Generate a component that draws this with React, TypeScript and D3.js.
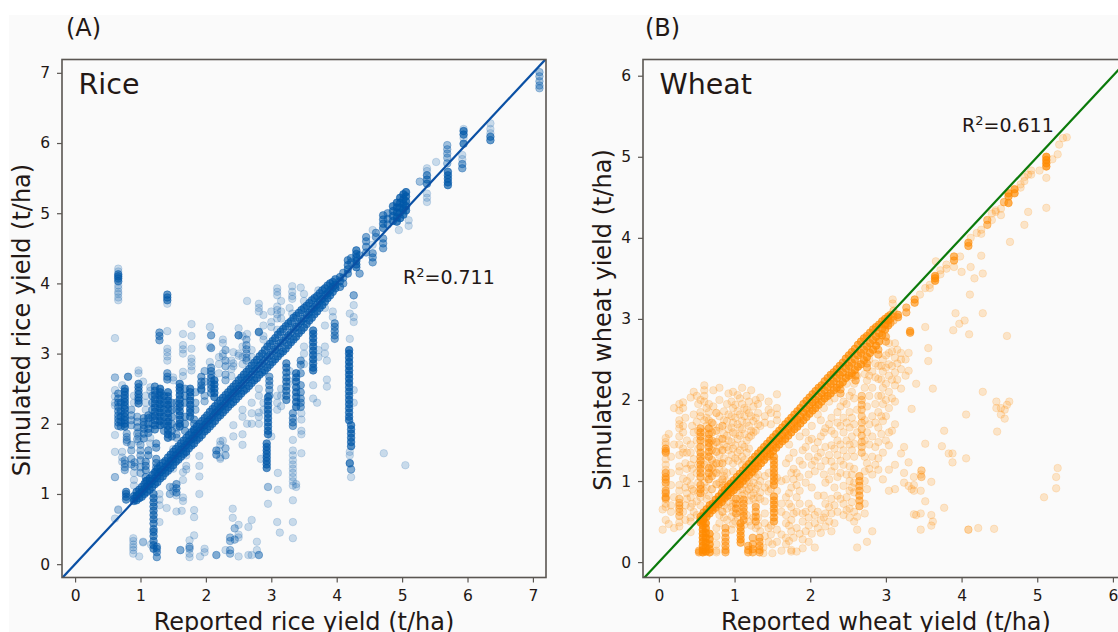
import { useEffect, useRef } from "react";
import * as d3 from "d3";

// [reported yield, overplot count, simulated yields]
type Strip = [number, number, number[]];
type Band = [number, number[]];
type Dot = { x: number; y: number; n: number };

const riceTicks = [0, 1, 2, 3, 4, 5, 6, 7];
const wheatTicks = [0, 1, 2, 3, 4, 5, 6];

// dense run along the 1:1 line
const riceBand: Band[] = [
  [0.9, [0.97, 0.93, 0.9]], [0.94, [1.03, 0.97, 0.91]], [0.98, [1.06, 1.0, 0.94]], [1.02, [1.1, 1.03, 0.96]], [1.06, [1.14, 1.07, 1.0]],
  [1.1, [1.19, 1.11, 1.03]], [1.14, [1.22, 1.14, 1.06]], [1.18, [1.27, 1.19, 1.1]], [1.22, [1.31, 1.22, 1.14]], [1.26, [1.36, 1.26, 1.17]],
  [1.3, [1.4, 1.31, 1.22]], [1.34, [1.44, 1.34, 1.25]], [1.38, [1.47, 1.38, 1.3]], [1.42, [1.52, 1.42, 1.33]], [1.46, [1.56, 1.47, 1.37]],
  [1.5, [1.6, 1.5, 1.41]], [1.54, [1.64, 1.55, 1.46]], [1.58, [1.68, 1.58, 1.49]], [1.62, [1.72, 1.63, 1.53]], [1.66, [1.76, 1.66, 1.57]],
  [1.7, [1.8, 1.7, 1.6]], [1.74, [1.84, 1.75, 1.65]], [1.78, [1.88, 1.78, 1.69]], [1.82, [1.92, 1.83, 1.72]], [1.86, [1.96, 1.86, 1.77]],
  [1.9, [2.0, 1.9, 1.8]], [1.94, [2.04, 1.95, 1.84]], [1.98, [2.08, 1.98, 1.89]], [2.02, [2.12, 2.03, 1.92]], [2.06, [2.17, 2.06, 1.96]],
  [2.1, [2.21, 2.1, 2.0]], [2.14, [2.25, 2.15, 2.04]], [2.18, [2.29, 2.18, 2.09]], [2.22, [2.33, 2.23, 2.12]], [2.26, [2.37, 2.26, 2.16]],
  [2.3, [2.41, 2.3, 2.2]], [2.34, [2.45, 2.35, 2.24]], [2.38, [2.49, 2.38, 2.28]], [2.42, [2.53, 2.43, 2.31]], [2.46, [2.57, 2.46, 2.35]],
  [2.5, [2.62, 2.5, 2.39]], [2.54, [2.66, 2.55, 2.43]], [2.58, [2.7, 2.58, 2.47]], [2.62, [2.74, 2.63, 2.5]], [2.66, [2.78, 2.66, 2.54]],
  [2.7, [2.83, 2.7, 2.58]], [2.74, [2.87, 2.75, 2.62]], [2.78, [2.91, 2.78, 2.65]], [2.82, [2.96, 2.83, 2.7]], [2.86, [3.0, 2.86, 2.73]],
  [2.9, [3.05, 2.9, 2.76]], [2.94, [3.1, 2.95, 2.8]], [2.98, [3.14, 2.98, 2.84]], [3.02, [3.18, 3.03, 2.88]], [3.06, [3.22, 3.06, 2.92]],
  [3.1, [3.27, 3.1, 2.96]], [3.14, [3.31, 3.15, 3.0]], [3.18, [3.35, 3.18, 3.03]], [3.22, [3.39, 3.23, 3.07]], [3.26, [3.43, 3.26, 3.12]],
  [3.3, [3.46, 3.3, 3.16]], [3.34, [3.51, 3.35, 3.2]], [3.38, [3.54, 3.38, 3.24]], [3.42, [3.58, 3.43, 3.29]], [3.46, [3.62, 3.46, 3.33]],
  [3.5, [3.65, 3.5, 3.37]], [3.54, [3.68, 3.55, 3.42]], [3.58, [3.72, 3.58, 3.47]], [3.62, [3.76, 3.63, 3.51]], [3.66, [3.79, 3.66, 3.56]],
  [3.7, [3.82, 3.7, 3.6]], [3.74, [3.86, 3.75, 3.65]], [3.78, [3.9, 3.78, 3.69]], [3.82, [3.93, 3.83, 3.74]], [3.86, [3.97, 3.86, 3.79]],
  [3.9, [4.0, 3.9, 3.83]], [3.94, [4.02, 3.95, 3.88]], [3.98, [4.06, 3.98, 3.93]],
];

const riceStrips: Strip[] = [
  // low end columns
  [0.66, 1, [4.21, 4.17, 3.97, 3.93, 3.88, 3.85, 3.8, 3.76, 0.77, 0.78]],
  [0.66, 4, [4.13, 4.1, 4.07, 4.03]],
  [0.61, 1, [3.22, 2.66, 2.66, 2.48, 2.39, 2.3, 2.26, 1.84, 1.6, 1.24, 1.24, 0.65]],
  [0.81, 4, [2.67]],
  [0.66, 3, [2.43, 2.36, 2.3, 2.24, 2.18, 2.12, 2.07, 2.02, 1.97]],
  [0.76, 5, [2.5, 2.46, 2.41, 2.36, 2.31, 2.26, 2.21, 2.15, 2.1, 2.05, 2.0, 1.96]],
  [0.7, 3, [2.3, 2.18, 2.1, 2.03, 1.96]],
  [0.79, 2, [1.86, 1.81, 1.77, 1.74]],
  [0.76, 2, [1.48, 1.43, 1.38, 1.34]],
  [0.91, 2, [1.45, 1.39]],
  [0.78, 4, [1.03, 1.0, 0.96, 0.92]],
  [0.97, 1, [2.76, 2.72, 1.95, 1.88, 1.82, 1.75]],
  [0.97, 4, [2.57, 2.52, 2.47, 2.42, 2.37, 2.33, 2.29]],
  [1.04, 1, [2.6]],
  [1.05, 3, [2.08, 2.03, 1.98, 1.93, 1.86, 1.79]],
  [0.95, 2, [2.1, 2.03, 1.95, 1.86, 1.78]],
  [0.89, 1, [0.37, 0.33, 0.28, 0.24, 0.2, 0.15]],
  [1.04, 1, [0.32, 0.31]],
  [0.98, 1, [0.11]],
  [1.2, 4, [1.0, 0.94, 0.88, 0.82, 0.76, 0.7, 0.64, 0.58, 0.5, 0.46, 0.4, 0.33, 0.27, 0.22]],
  [1.25, 3, [0.25, 0.22, 0.17, 0.1]],
  [1.29, 1, [1.0, 0.92, 0.84, 0.6]],
  [1.41, 4, [3.84, 3.8, 3.76]],
  [1.41, 1, [3.71, 3.32, 3.07, 3.02, 2.96, 2.9, 2.28, 2.0]],
  [1.29, 3, [3.3, 3.25, 3.19]],
  [1.41, 3, [2.72, 2.67, 2.63]],
  [1.22, 4, [2.53, 2.47, 2.41, 2.35, 2.29, 2.23, 2.17, 2.11, 2.05, 1.98, 1.92]],
  [1.3, 6, [2.5, 2.45, 2.4, 2.34, 2.28, 2.22, 2.16, 2.1, 2.04, 1.98]],
  [1.42, 5, [2.45, 2.39, 2.33, 2.27, 2.21, 2.15, 2.09, 2.03, 1.97, 1.91, 1.85, 1.8]],
  [1.6, 5, [2.57, 2.52, 2.47, 2.41, 2.35, 2.29, 2.24, 2.18, 2.12, 2.06, 2.0, 1.96]],
  [1.76, 5, [2.5, 2.45, 2.39, 2.33, 2.27, 2.21, 2.16, 2.1]],
  [1.65, 1, [3.28, 3.12, 3.06, 3.0, 2.74, 2.68]],
  [1.78, 1, [3.42, 3.25, 3.07, 2.93, 2.88, 2.82, 2.76]],
  [1.5, 1, [2.66, 2.62, 1.64, 1.55]],
  [1.15, 1, [2.52, 2.47, 2.1, 1.92, 1.8, 1.72]],
  [1.12, 3, [2.12, 2.08, 2.0, 1.93, 1.87, 1.62, 1.55]],
  [1.24, 3, [1.72, 1.66, 1.5, 1.44, 1.38, 1.32]],
  [1.08, 3, [1.46, 1.4, 1.34, 1.24, 1.18]],
  [1.5, 1, [1.46, 1.36, 1.1, 1.04]],
  [1.55, 3, [1.14, 1.08, 1.02]],
  [1.65, 1, [1.2, 1.31, 0.95, 0.9]],
  [1.9, 1, [1.54, 1.4, 1.25, 1.0]],
  [1.93, 3, [2.67, 2.6, 2.55, 2.5, 2.48]],
  [1.82, 3, [2.06, 2.0, 1.9, 1.8]],
  [1.7, 1, [1.7, 1.6, 1.55, 1.4, 1.35]],
  [2.06, 1, [3.38, 3.1, 2.88]],
  [2.08, 3, [3.26, 3.08, 2.8, 2.75, 2.7, 2.65, 2.6, 2.55, 2.5, 2.44]],
  [2.13, 5, [2.62, 2.56, 2.5, 2.44, 2.38]],
  [2.26, 1, [3.2, 3.15, 3.0, 2.96, 1.76]],
  [2.39, 1, [2.9, 2.78, 2.68]],
  [2.5, 1, [3.36, 3.0, 2.97]],
  [2.5, 5, [3.26]],
  [2.63, 1, [3.75, 3.28, 2.0]],
  [2.81, 1, [3.71, 3.65, 3.6, 3.3, 2.5, 2.4, 2.16, 2.1, 2.0]],
  [2.81, 4, [3.31]],
  [2.62, 2, [3.2, 3.12, 3.06, 3.0, 2.94, 2.9]],
  [2.22, 1, [1.75, 1.7, 1.52, 1.5]],
  [2.16, 3, [1.62, 1.56]],
  [3.09, 1, [3.93, 3.88, 3.83, 3.67, 3.62, 3.56, 3.5, 3.34, 2.4, 2.3, 2.2, 0.6]],
  [3.32, 1, [3.96, 3.88, 3.82, 3.78, 3.57]],
  [3.45, 1, [3.94]],
  // second pass over the crowded part of the panel
  [0.72, 1, [2.55, 1.6, 1.52, 1.46]],
  [0.86, 2, [2.2, 2.12, 2.05, 1.98, 1.7, 1.62, 1.5, 1.42]],
  [0.9, 1, [2.4, 2.3, 1.3, 1.2, 1.12]],
  [1.0, 2, [1.7, 1.62, 1.55, 1.48, 1.38, 1.3]],
  [1.08, 1, [2.4, 2.3, 2.2]],
  [1.18, 3, [2.4, 2.3, 2.2, 2.1, 2.0]],
  [1.36, 3, [2.4, 2.3, 2.2, 2.1, 2.0, 1.9]],
  [1.48, 3, [2.3, 2.2, 2.1, 2.0, 1.9, 1.82]],
  [1.55, 2, [2.3, 2.2, 1.95, 1.85, 1.8]],
  [1.68, 3, [2.5, 2.4, 2.3, 2.1, 2.0, 1.9]],
  [1.84, 2, [2.3, 2.2, 2.45]],
  [1.98, 2, [2.75, 2.6, 2.4, 2.32]],
  [2.2, 1, [2.95, 2.85, 2.72, 1.62]],
  [2.3, 2, [3.05, 2.9, 2.82, 2.7, 2.62, 1.65, 1.55]],
  [2.42, 1, [3.02, 2.86, 2.82, 1.98, 1.82]],
  [2.56, 1, [3.25, 3.1, 2.95, 2.85, 2.2, 2.1, 1.85, 1.7]],
  [2.7, 1, [3.05, 2.95, 2.3, 2.15, 2.0]],
  [2.88, 1, [3.55, 3.4, 3.25, 3.2, 2.3, 2.2]],
  [3.0, 1, [3.6, 3.45, 3.38, 1.82]],
  [3.15, 1, [3.75, 3.6, 3.5, 2.5, 2.4, 2.25]],
  [3.28, 1, [3.65, 2.75, 2.6]],
  [3.5, 1, [3.85, 3.75, 3.1, 3.0, 2.85]],
  [3.72, 1, [3.9, 3.05, 2.95]],
  [3.82, 1, [3.65, 3.4, 3.1, 3.0]],
  // columns below the diagonal
  [2.97, 3, [2.67, 2.61, 2.55, 2.48, 2.4]],
  [2.95, 5, [2.38, 2.32, 2.26, 2.2, 2.14, 2.08, 2.02, 1.96, 1.9, 1.85]],
  [2.93, 5, [1.72, 1.67, 1.62, 1.57, 1.52, 1.47, 1.42, 1.37]],
  [2.84, 1, [1.5]],
  [3.23, 4, [2.86, 2.8, 2.73, 2.66, 2.6, 2.53, 2.47, 2.4, 2.34]],
  [3.38, 5, [2.72, 2.66, 2.6, 2.52, 2.45, 2.38, 2.31, 2.24]],
  [3.45, 3, [2.9, 2.84, 2.72, 2.55, 2.45, 2.36, 2.3, 2.24]],
  [3.33, 3, [2.15, 2.08, 2.02, 1.97]],
  [3.33, 1, [1.77, 1.62, 1.55, 1.48, 1.42, 1.36, 1.3, 1.24, 1.18, 1.12, 0.91, 0.6, 0.37]],
  [3.46, 1, [2.15, 2.06, 1.9, 1.85, 1.58]],
  [3.38, 1, [1.1, 1.14]],
  [2.95, 2, [1.1]],
  [2.95, 1, [0.86]],
  [3.1, 1, [1.3, 1.06]],
  [3.13, 1, [0.45]],
  [3.64, 5, [3.33, 3.28, 3.22, 3.16, 3.1, 3.04, 2.98, 2.92, 2.86, 2.8, 2.76]],
  [3.64, 1, [2.55, 2.36]],
  [3.7, 1, [2.3]],
  [3.85, 1, [2.9, 2.63, 2.53]],
  [3.97, 3, [3.43, 3.38, 3.32, 3.26, 3.21]],
  [3.94, 1, [3.6, 3.52]],
  // x = 4.2 column
  [4.19, 6, [3.05, 3.0, 2.94, 2.88, 2.82, 2.76, 2.7, 2.64, 2.58]],
  [4.19, 5, [2.52, 2.46, 2.4, 2.34, 2.28, 2.22, 2.16, 2.1, 2.05]],
  [4.22, 5, [1.98, 1.92, 1.86, 1.8, 1.74, 1.68]],
  [4.2, 1, [3.57, 3.21, 1.6, 1.55, 1.43]],
  [4.2, 4, [1.44]],
  [4.22, 3, [1.35]],
  [4.22, 1, [1.24]],
  [4.26, 1, [3.83, 3.83, 3.69, 3.52, 3.45, 2.48, 2.3]],
  [4.72, 1, [1.58]],
  [5.05, 1, [1.41]],
  // bottom scatter
  [1.61, 3, [0.2]],
  [1.75, 2, [0.25, 0.22]],
  [1.75, 1, [0.34, 0.1, 0.15]],
  [1.82, 1, [0.41, 0.77, 0.67]],
  [1.91, 1, [0.11]],
  [1.98, 1, [0.22, 0.17]],
  [2.16, 3, [0.13]],
  [2.3, 1, [0.2]],
  [2.41, 1, [0.79, 0.66]],
  [2.37, 2, [0.38, 0.33, 0.2, 0.15]],
  [2.44, 2, [0.51, 0.35]],
  [2.5, 1, [0.56, 0.42, 0.38, 0.11]],
  [2.7, 1, [0.63, 0.13]],
  [2.65, 1, [0.53, 0.13]],
  [2.78, 1, [0.32, 0.2]],
  [2.81, 3, [0.13]],
  [1.63, 1, [0.76]],
  [1.4, 1, [0.8]],
  [1.16, 1, [0.28]],
  [1.45, 2, [1.1, 1.0]],
  [1.55, 1, [0.98, 0.75]],
  // upper diagonal clusters
  [4.05, 4, [4.09, 4.03, 3.95]],
  [4.1, 3, [4.15, 4.08, 4.0]],
  [4.17, 4, [4.33, 4.26, 4.2, 4.14]],
  [4.3, 5, [4.47, 4.42, 4.37, 4.32, 4.27, 4.23]],
  [4.35, 3, [4.4, 4.14]],
  [4.22, 3, [4.36, 4.3]],
  [4.26, 1, [3.83]],
  [4.45, 3, [4.66, 4.6, 4.52, 4.44]],
  [4.55, 1, [4.76, 4.55]],
  [4.55, 3, [4.43, 4.37, 4.3]],
  [4.6, 3, [4.72, 4.66]],
  [4.71, 4, [4.97, 4.91, 4.85, 4.79]],
  [4.71, 3, [4.64, 4.57, 4.5]],
  [4.78, 3, [5.0, 4.92, 4.84]],
  [4.86, 5, [5.1, 5.03, 4.96, 4.89]],
  [4.95, 1, [4.76]],
  [4.92, 6, [5.15, 5.08, 5.01, 4.94, 4.88]],
  [4.97, 6, [5.22, 5.15, 5.08, 5.01, 4.93]],
  [5.02, 6, [5.27, 5.2, 5.13, 5.06, 4.98]],
  [5.06, 6, [5.3, 5.24, 5.17, 5.1, 5.04]],
  [5.1, 1, [4.9, 4.82]],
  [5.27, 2, [5.45]],
  [5.38, 1, [5.64, 5.6, 5.28, 5.22, 5.16]],
  [5.38, 4, [5.54, 5.48, 5.42]],
  [5.52, 1, [5.73]],
  [5.69, 2, [5.97, 5.91, 5.85, 5.79, 5.71]],
  [5.7, 5, [5.59, 5.54, 5.49, 5.44, 5.4]],
  [5.92, 1, [5.83, 5.77]],
  [5.92, 3, [5.7, 5.64]],
  [5.94, 5, [6.17, 6.12, 5.99]],
  [5.94, 1, [6.2, 6.07]],
  [6.35, 1, [6.28, 6.2, 6.14]],
  [6.35, 4, [6.09, 6.04]],
  [7.1, 2, [7.01, 6.95, 6.88, 6.82, 6.78]],
];

const wheatBand: Band[] = [
  [0.55, [0.56, 0.52, 0.49]], [0.59, [0.61, 0.57, 0.53]], [0.63, [0.65, 0.6, 0.56]], [0.67, [0.7, 0.65, 0.6]], [0.71, [0.72, 0.68, 0.64]],
  [0.75, [0.77, 0.72, 0.67]], [0.79, [0.81, 0.76, 0.71]], [0.83, [0.85, 0.8, 0.74]], [0.87, [0.89, 0.84, 0.79]], [0.91, [0.93, 0.87, 0.82]],
  [0.95, [0.97, 0.91, 0.86]], [0.99, [1.01, 0.95, 0.89]], [1.03, [1.05, 0.99, 0.93]], [1.07, [1.09, 1.02, 0.96]], [1.11, [1.13, 1.06, 1.0]],
  [1.15, [1.17, 1.1, 1.04]], [1.19, [1.21, 1.14, 1.07]], [1.23, [1.26, 1.18, 1.11]], [1.27, [1.3, 1.22, 1.15]], [1.31, [1.34, 1.26, 1.18]],
  [1.35, [1.38, 1.3, 1.22]], [1.39, [1.42, 1.34, 1.26]], [1.43, [1.46, 1.38, 1.3]], [1.47, [1.5, 1.41, 1.33]], [1.51, [1.54, 1.45, 1.37]],
  [1.55, [1.58, 1.49, 1.41]], [1.59, [1.62, 1.53, 1.45]], [1.63, [1.66, 1.57, 1.49]], [1.67, [1.7, 1.61, 1.52]], [1.71, [1.74, 1.65, 1.56]],
  [1.75, [1.78, 1.69, 1.6]], [1.79, [1.82, 1.73, 1.64]], [1.83, [1.86, 1.76, 1.67]], [1.87, [1.9, 1.8, 1.71]], [1.91, [1.95, 1.85, 1.75]],
  [1.95, [1.99, 1.89, 1.79]], [1.99, [2.03, 1.93, 1.83]], [2.03, [2.07, 1.97, 1.87]], [2.07, [2.11, 2.0, 1.9]], [2.11, [2.15, 2.04, 1.94]],
  [2.15, [2.18, 2.08, 1.98]], [2.19, [2.23, 2.12, 2.02]], [2.23, [2.27, 2.16, 2.05]], [2.27, [2.31, 2.2, 2.08]], [2.31, [2.34, 2.23, 2.12]],
  [2.35, [2.38, 2.27, 2.15]], [2.39, [2.42, 2.31, 2.19]], [2.43, [2.46, 2.34, 2.22]], [2.47, [2.51, 2.39, 2.27]], [2.51, [2.55, 2.42, 2.3]],
  [2.55, [2.59, 2.46, 2.33]], [2.59, [2.63, 2.5, 2.37]], [2.63, [2.68, 2.55, 2.41]], [2.67, [2.72, 2.58, 2.44]], [2.71, [2.76, 2.62, 2.49]],
  [2.75, [2.79, 2.66, 2.53]], [2.79, [2.83, 2.7, 2.58]], [2.83, [2.87, 2.74, 2.62]], [2.87, [2.9, 2.78, 2.67]], [2.91, [2.93, 2.82, 2.72]],
  [2.95, [2.97, 2.88, 2.8]], [2.99, [3.0, 2.93, 2.87]], [3.03, [3.03, 2.98, 2.92]],
];

const wheatStrips: Strip[] = [
  [0.05, 1, [0.65, 0.4]],
  [0.09, 1, [1.53, 1.48, 1.45, 1.27, 1.2, 1.14, 0.93, 0.72, 0.68, 0.52]],
  [0.09, 3, [1.4, 1.37, 1.35, 1.1, 1.05, 1.02, 0.98, 0.88, 0.85, 0.8, 0.78]],
  [0.13, 1, [1.58, 0.47]],
  [0.2, 1, [1.9, 1.45, 0.8, 0.42]],
  [0.27, 1, [1.95, 1.87, 1.75, 1.7, 1.65, 1.55, 1.45, 1.32, 1.18, 1.12, 0.95, 0.88, 0.49, 0.44]],
  [0.27, 2, [0.78, 0.73, 0.7, 0.66, 0.62, 0.57]],
  [0.32, 1, [1.97, 1.9, 1.68, 1.6, 1.4, 1.35, 1.03, 0.62]],
  [0.37, 1, [1.5, 1.35, 1.15, 1.0, 0.85, 0.78]],
  [0.42, 1, [2.03, 1.45, 1.35, 1.2, 1.05, 0.95, 0.8, 0.68, 0.55, 0.5, 0.37]],
  [0.46, 1, [2.1, 1.82, 1.6, 1.27, 0.88, 0.62]],
  [0.5, 1, [2.05, 1.73, 1.5, 1.1, 0.75, 0.58]],
  [0.55, 3, [1.65, 1.6, 1.55, 1.5, 1.42, 1.35, 1.3, 1.25, 1.2, 1.15, 1.1, 1.05, 0.95, 0.9, 0.85]],
  [0.55, 1, [2.0, 1.85, 1.8, 0.8, 0.7]],
  [0.6, 1, [2.18, 2.12, 2.05, 1.98, 1.75, 1.6, 1.48, 1.32, 1.2, 0.98, 0.88]],
  [0.66, 3, [1.65, 1.58, 1.52, 1.47, 1.42, 1.36, 1.3, 1.16, 1.1, 1.02]],
  [0.66, 1, [1.95, 1.85, 1.75, 0.82]],
  [0.72, 1, [2.12, 1.92, 1.7, 1.45, 1.2, 1.1]],
  [0.8, 1, [2.15, 2.0, 1.8, 1.66, 1.52, 1.42, 1.32, 1.22, 1.14, 0.98, 0.58, 0.48]],
  [0.86, 1, [1.86, 1.75, 1.58, 1.45, 1.28, 1.12, 1.06, 0.95, 0.85, 0.7, 0.55]],
  [0.92, 1, [2.08, 1.82, 1.64, 1.5, 1.38, 1.25, 0.95, 0.75]],
  [0.98, 1, [2.1, 1.9, 1.72, 1.6, 1.4, 1.22, 1.12, 0.72, 0.62, 0.47]],
  [1.04, 1, [2.06, 1.86, 1.7, 1.52, 1.35, 1.25, 0.88, 0.7, 0.55]],
  [1.1, 1, [2.15, 1.95, 1.74, 1.64, 1.45, 1.3, 1.2, 0.9, 0.82]],
  [1.16, 1, [2.05, 1.88, 1.72, 1.5, 1.35, 1.0, 0.88, 0.58]],
  [1.22, 1, [2.12, 1.8, 1.62, 1.56, 0.93, 0.82, 0.45]],
  [1.28, 1, [2.0, 1.78, 1.62, 1.18, 1.05, 0.9, 0.72, 0.42]],
  [1.34, 1, [2.03, 1.68, 1.0, 0.86, 0.78, 0.38]],
  [1.45, 1, [1.98, 1.88, 1.1, 0.96, 0.87, 0.42, 0.25]],
  [1.56, 1, [2.07, 1.9, 1.82, 1.75, 1.04, 0.88, 0.4, 0.25]],
  // second pass over the crowded part of the panel
  [0.16, 1, [1.3, 1.1, 0.95, 0.7, 0.62]],
  [0.35, 1, [1.78, 1.22, 0.92, 0.7, 0.52]],
  [0.44, 1, [1.68, 1.15, 0.9, 0.72]],
  [0.52, 1, [1.95, 1.62, 1.4, 1.2, 0.98, 0.85]],
  [0.63, 1, [1.9, 1.78, 1.68, 1.25, 1.05, 0.92, 0.78]],
  [0.7, 2, [1.72, 1.6, 1.5, 1.38, 1.26, 1.16, 1.06, 0.9]],
  [0.76, 2, [1.84, 1.62, 1.48, 1.36, 1.22, 1.1, 0.96]],
  [0.84, 2, [1.68, 1.52, 1.38, 1.22, 1.02, 0.92, 0.78, 0.62]],
  [0.9, 1, [1.95, 1.74, 1.56, 1.42, 1.1, 1.0, 0.82, 0.66, 0.52]],
  [0.96, 1, [1.98, 1.8, 1.66, 1.48, 1.32, 0.8, 0.68, 0.56, 0.4]],
  [1.01, 1, [1.94, 1.78, 1.58, 1.44, 1.28, 0.92, 0.5]],
  [1.07, 1, [2.02, 1.82, 1.66, 1.56, 1.38, 0.94, 0.78, 0.62]],
  [1.13, 1, [1.9, 1.8, 1.58, 1.42, 1.26, 0.96, 0.84, 0.46]],
  [1.19, 1, [1.98, 1.84, 1.68, 1.54, 1.4, 0.98, 0.9, 0.76, 0.5]],
  [1.25, 1, [1.92, 1.74, 1.6, 1.1, 0.98, 0.85, 0.78, 0.55]],
  [1.31, 1, [1.95, 1.84, 1.7, 1.08, 0.95, 0.8, 0.55, 0.45]],
  [1.4, 1, [1.8, 1.72, 1.06, 0.92, 0.75, 0.6, 0.48, 0.32]],
  [1.48, 1, [1.84, 1.7, 0.9, 0.45, 0.34]],
  [1.62, 1, [1.0, 0.72, 0.62, 0.34, 0.14]],
  [1.72, 1, [1.45, 1.28, 0.85, 0.72, 0.45, 0.26]],
  [1.78, 1, [1.35, 1.15, 1.02, 0.6, 0.3]],
  [1.86, 1, [1.55, 1.25, 1.05, 0.88, 0.72, 0.35]],
  [1.94, 1, [1.6, 1.42, 0.98, 0.62, 0.38]],
  [2.02, 1, [1.68, 1.52, 1.2, 0.92, 0.66, 0.35]],
  [2.1, 1, [1.82, 1.48, 1.3, 0.82, 0.62, 0.42]],
  [2.18, 1, [1.9, 1.6, 1.08, 0.82, 0.55]],
  [2.25, 1, [1.98, 1.7, 1.32, 1.02, 0.68, 0.5]],
  [2.32, 1, [2.02, 1.58, 1.4, 1.18, 0.92, 0.7, 0.48]],
  [2.4, 1, [1.92, 1.68, 1.45, 1.25, 1.1, 0.78]],
  [2.48, 1, [2.2, 1.95, 1.72, 1.5, 1.3, 1.08, 0.8, 0.64]],
  [2.55, 1, [2.28, 2.1, 1.78, 1.55, 1.38, 1.08, 0.92, 0.74]],
  [2.72, 1, [2.32, 2.15, 1.75, 1.5, 1.3, 1.12, 1.0, 0.72, 0.6]],
  [2.78, 1, [2.5, 2.3, 2.05, 1.7, 1.45, 1.15]],
  [2.86, 1, [2.45, 2.28, 1.95, 1.72, 1.42, 1.2]],
  [2.94, 1, [2.42, 2.25, 2.05, 1.8, 1.58]],
  [3.0, 1, [2.55, 2.4, 2.2, 2.0, 1.8, 1.5]],
  [3.08, 1, [2.6, 2.42, 2.25, 2.02, 1.62]],
  [3.15, 1, [2.62, 2.45, 2.25]],
  [3.26, 1, [2.5, 2.3]],
  [2.4, 3, [2.13, 2.08]],
  [2.6, 3, [2.3, 2.24]],
  [2.75, 3, [2.45, 2.4]],
  [2.9, 3, [2.62, 2.56]],
  [3.0, 3, [2.78, 2.72]],
  // dense columns low on the panel
  [0.58, 6, [0.5, 0.45, 0.4, 0.35, 0.3, 0.25, 0.2, 0.15, 0.12]],
  [0.62, 6, [0.48, 0.42, 0.36, 0.3, 0.24, 0.18, 0.13]],
  [0.67, 5, [0.35, 0.28, 0.22, 0.16, 0.12]],
  [0.53, 3, [0.14, 0.12]],
  [0.76, 1, [0.42, 0.32, 0.22, 0.14, 0.12]],
  [0.88, 3, [0.42, 0.36, 0.3, 0.25, 0.2, 0.15, 0.12]],
  [1.08, 4, [0.48, 0.43, 0.38, 0.33, 0.28, 0.24]],
  [1.12, 3, [0.77, 0.72, 0.67, 0.62, 0.57, 0.52]],
  [1.28, 3, [0.68, 0.62, 0.56, 0.5]],
  [1.02, 3, [0.78, 0.72, 0.66, 0.6]],
  [1.18, 3, [0.2, 0.15, 0.12]],
  [1.24, 3, [0.3, 0.22, 0.16, 0.12]],
  [1.33, 3, [0.3, 0.25, 0.2, 0.15, 0.12]],
  [1.38, 1, [0.18, 0.11]],
  [1.5, 1, [0.22, 0.11]],
  [1.52, 4, [1.3, 1.25, 1.2, 1.15, 1.1, 1.05, 1.0, 0.95]],
  [1.52, 4, [0.81, 0.76, 0.71, 0.66, 0.61, 0.55, 0.5]],
  [1.68, 1, [1.22, 1.02, 0.8, 0.58, 0.48, 0.3, 0.22]],
  [1.75, 1, [1.1, 0.92, 0.68, 0.52, 0.38, 0.15, 0.13]],
  [1.82, 1, [1.1, 0.95, 0.8, 0.62, 0.42, 0.13]],
  [1.9, 1, [1.38, 1.2, 0.6, 0.5, 0.28, 0.17]],
  [1.98, 1, [1.5, 1.3, 1.08, 0.72, 0.55, 0.45, 0.25]],
  [2.06, 1, [1.4, 1.25, 1.12, 0.58, 0.48, 0.18]],
  [2.14, 1, [1.75, 1.55, 1.35, 1.18, 0.52, 0.36]],
  [2.2, 1, [1.65, 1.42, 1.25, 0.98, 0.72, 0.6, 0.44]],
  [2.28, 1, [1.78, 1.62, 1.44, 1.24, 1.12, 0.78, 0.6, 0.38]],
  [2.36, 1, [1.85, 1.72, 1.5, 1.32, 1.05, 0.82, 0.62]],
  [2.44, 1, [1.98, 1.78, 1.6, 1.38, 1.2, 0.94, 0.72, 0.58]],
  [2.52, 1, [2.05, 1.85, 1.66, 1.45, 1.18, 1.0, 0.88, 0.66, 0.55]],
  [2.58, 1, [2.2, 2.02, 1.7, 1.46, 1.3, 1.15, 0.98, 0.86, 0.62, 0.5]],
  [2.65, 3, [1.06, 1.0, 0.94, 0.88, 0.82, 0.76, 0.69]],
  [2.62, 1, [2.3, 1.88, 1.6, 0.56, 0.4, 0.18]],
  [2.68, 2, [2.05, 2.0, 1.94, 1.88, 1.8, 1.72, 1.64, 1.56, 1.48, 1.42, 1.35]],
  [2.75, 1, [2.24, 1.92, 1.6, 1.22, 0.9, 0.25]],
  [2.82, 1, [2.35, 2.15, 1.8, 1.55, 1.3, 1.08, 0.38]],
  [2.9, 1, [2.42, 2.26, 2.05, 1.85, 1.66, 1.48, 1.28, 1.14]],
  [2.96, 1, [2.5, 2.35, 2.15, 1.95, 1.74, 1.35, 1.02]],
  [3.04, 1, [2.7, 2.58, 2.44, 2.3, 2.1, 1.9, 1.6, 1.44, 1.14, 0.88]],
  [3.12, 1, [2.7, 2.52, 2.34, 2.18, 1.98, 1.7, 1.2, 0.9]],
  [3.06, 3, [3.05, 3.0, 2.95]],
  [3.1, 2, [3.1, 3.03, 2.98]],
  [3.09, 1, [3.24, 3.19]],
  [3.16, 4, [3.05, 3.02]],
  [3.27, 3, [3.14, 3.08]],
  [3.38, 4, [3.24, 3.2]],
  [3.45, 1, [3.3]],
  [3.32, 4, [2.85, 2.83]],
  [3.2, 1, [2.58, 2.5, 2.38, 2.14, 1.34]],
  [3.24, 1, [1.42, 1.1, 0.98]],
  [3.3, 1, [2.58, 2.36, 1.23, 0.94]],
  [3.34, 1, [1.89, 0.9]],
  [3.37, 1, [1.05, 0.95, 0.88, 0.59]],
  [3.4, 1, [2.2, 0.58]],
  [3.47, 2, [1.13, 1.05]],
  [3.46, 1, [1.08, 0.88, 0.6, 0.4]],
  [3.52, 1, [2.9, 1.46, 0.75]],
  [3.56, 1, [2.64, 2.48]],
  [3.6, 1, [0.99, 0.58, 0.45]],
  [3.62, 1, [2.14, 0.5]],
  [3.74, 1, [1.43]],
  [3.77, 1, [1.62, 0.67]],
  [3.83, 1, [1.34]],
  [3.88, 1, [1.34, 1.23]],
  [4.06, 1, [1.82, 1.28]],
  [4.09, 2, [0.4]],
  [4.22, 1, [0.42]],
  [4.28, 1, [2.1]],
  [4.43, 1, [0.41]],
  [4.46, 1, [1.98, 1.9]],
  [4.47, 1, [1.61]],
  [4.52, 1, [1.9, 1.82]],
  [4.57, 1, [1.88, 1.77]],
  [4.6, 1, [1.94]],
  [4.63, 1, [1.98]],
  [5.09, 1, [0.8]],
  [5.25, 1, [1.05, 0.91]],
  [5.27, 1, [1.16]],
  // upper part, mostly just under the line
  [3.52, 1, [3.38]],
  [3.58, 1, [3.42, 3.38]],
  [3.65, 5, [3.53, 3.5, 3.47]],
  [3.66, 1, [3.71]],
  [3.72, 1, [3.6, 3.55]],
  [3.8, 1, [3.67, 3.62]],
  [3.9, 4, [3.77, 3.72]],
  [3.98, 1, [3.77]],
  [3.9, 1, [3.64]],
  [4.0, 1, [3.58]],
  [4.09, 4, [3.94, 3.9]],
  [4.12, 1, [3.64, 4.0]],
  [4.17, 1, [3.5]],
  [4.26, 1, [3.78, 4.1, 4.05]],
  [4.2, 1, [4.06]],
  [4.28, 1, [3.56, 3.07]],
  [4.11, 1, [3.3]],
  [3.92, 1, [3.07]],
  [4.04, 1, [2.98]],
  [3.97, 1, [2.94]],
  [3.89, 1, [2.86]],
  [4.1, 1, [2.81]],
  [4.6, 1, [2.79]],
  [4.64, 1, [3.95]],
  [4.34, 3, [4.22, 4.16]],
  [4.4, 1, [4.3, 4.22]],
  [4.45, 1, [4.32, 4.34]],
  [4.52, 1, [4.36, 4.28]],
  [4.56, 3, [4.44]],
  [4.62, 5, [4.43, 4.55, 4.51]],
  [4.7, 5, [4.6, 4.55]],
  [4.78, 1, [4.62, 4.66]],
  [4.83, 1, [4.16, 4.75, 4.7]],
  [4.88, 1, [4.32, 4.78]],
  [4.92, 1, [4.83, 4.78]],
  [5.03, 1, [4.83]],
  [5.12, 6, [5.0, 4.96, 4.92, 4.88]],
  [5.12, 1, [4.74, 4.37]],
  [5.2, 1, [4.97]],
  [5.27, 1, [5.03]],
  [5.29, 1, [5.15]],
  [5.34, 1, [5.23]],
  [5.39, 1, [5.24]],
];

const BAND_STACK = 5;

// flatten the columns into single dots, a stacked dot stands for that many overlapping ones
const toDots = (band: Band[], strips: Strip[]): Dot[] => [
  ...strips.flatMap(([x, n, ys]) => ys.map((y) => ({ x, y, n }))),
  ...band.flatMap(([x, ys]) => ys.map((y) => ({ x, y, n: BAND_STACK }))),
];

const INK = "#231815";
const SPINE = "#5a5652";

type PanelProps = {
  id: string;
  tag: string;
  tagX: number;
  title: string;
  crop: string;
  dots: Dot[];
  ticks: number[];
  xDomain: [number, number];
  yDomain: [number, number];
  left: number;
  right: number;
  labelX: number;
  r2: string;
  r2x: number;
  r2y: number;
  dotColor: string;
  lineColor: string;
};

const top = 59.5;
const bottom = 577.5;

const Panel = (p: PanelProps) => {
  const axesRef = useRef<SVGGElement>(null);
  const x = d3.scaleLinear().domain(p.xDomain).range([p.left, p.right]);
  const y = d3.scaleLinear().domain(p.yDomain).range([bottom, top]);
  const line = d3.line<number>()
    .x((d) => x(d))
    .y((d) => y(d));
  const ends = [Math.min(p.xDomain[0], p.yDomain[0]), Math.max(p.xDomain[1], p.yDomain[1])];

  useEffect(() => {
    const g = d3.select(axesRef.current);
    g.selectAll("*").remove();
    const style = (a: d3.Selection<SVGGElement, unknown, null, undefined>) => {
      a.select(".domain").remove();
      a.selectAll("line").attr("stroke", SPINE).attr("stroke-width", 1.2);
      a.selectAll("text")
        .attr("fill", INK)
        .attr("font-size", 15.5)
        .attr("font-family", "DejaVu Sans");
    };
    g.append("g")
      .attr("transform", `translate(0,${bottom})`)
      .call(d3.axisBottom(x).tickValues(p.ticks).tickFormat(d3.format("d")).tickSize(5).tickPadding(7))
      .call(style);
    g.append("g")
      .attr("transform", `translate(${p.left},0)`)
      .call(d3.axisLeft(y).tickValues(p.ticks).tickFormat(d3.format("d")).tickSize(5).tickPadding(7))
      .call(style);
  }, []);

  return (
    <g fontFamily="DejaVu Sans" fill={INK}>
      <clipPath id={p.id}>
        <rect x={p.left} y={top} width={p.right - p.left} height={bottom - top} />
      </clipPath>
      <g clipPath={`url(#${p.id})`}>
        <g filter="url(#soft)">
          {p.dots.map((d, i) => (
            <circle
              key={i}
              cx={x(d.x)}
              cy={y(d.y)}
              r={3.8}
              fill={p.dotColor}
              fillOpacity={1 - Math.pow(0.8, d.n)}
              stroke={p.dotColor}
              strokeOpacity={1 - Math.pow(0.8, d.n)}
              strokeWidth={0.8}
            />
          ))}
        </g>
        <path d={line(ends) ?? ""} fill="none" stroke={p.lineColor} strokeWidth={2.2} />
      </g>
      <rect
        x={p.left}
        y={top}
        width={p.right - p.left}
        height={bottom - top}
        fill="none"
        stroke={SPINE}
        strokeWidth={1.6}
      />
      <g ref={axesRef} />
      <text x={p.tagX} y={36} fontSize={24}>{p.tag}</text>
      <text x={p.left + 16.5} y={94} fontSize={28.5}>{p.title}</text>
      <text x={p.r2x} y={p.r2y} fontSize={19}>
        R<tspan dy={-7} fontSize={13}>2</tspan><tspan dy={7}>={p.r2}</tspan>
      </text>
      <text textAnchor="middle" x={p.labelX} y={629.5} fontSize={24}>
        Reported {p.crop} yield (t/ha)
      </text>
      <text
        textAnchor="middle"
        transform={`translate(${p.left - 32.5},320) rotate(-90)`}
        fontSize={24}
      >
        Simulated {p.crop} yield (t/ha)
      </text>
    </g>
  );
};

export default function App() {
  return (
    <svg
      width={1118}
      height={632}
      style={{ position: "absolute", left: 0, top: 0, background: "#fff" }}
    >
      <defs>
        <filter id="soft" x="-5%" y="-5%" width="110%" height="110%">
          <feGaussianBlur stdDeviation={0.45} />
        </filter>
      </defs>
      <rect x={9} y={15} width={1109} height={617} fill="#fafafa" />
      <Panel
        id="clip-a"
        tag="(A)"
        tagX={66}
        title="Rice"
        crop="rice"
        dots={toDots(riceBand, riceStrips)}
        ticks={riceTicks}
        xDomain={[-0.2, 7.2]}
        yDomain={[-0.19, 7.19]}
        left={62}
        right={546}
        labelX={304}
        r2="0.711"
        r2x={403}
        r2y={284}
        dotColor="#0058a8"
        lineColor="#0a50a4"
      />
      <Panel
        id="clip-b"
        tag="(B)"
        tagX={645}
        title="Wheat"
        crop="wheat"
        dots={toDots(wheatBand, wheatStrips)}
        ticks={wheatTicks}
        xDomain={[-0.21, 6.12]}
        yDomain={[-0.19, 6.2]}
        left={643}
        right={1122}
        labelX={886}
        r2="0.611"
        r2x={962}
        r2y={132}
        dotColor="#ff8a00"
        lineColor="#0a7a0a"
      />
    </svg>
  );
}
